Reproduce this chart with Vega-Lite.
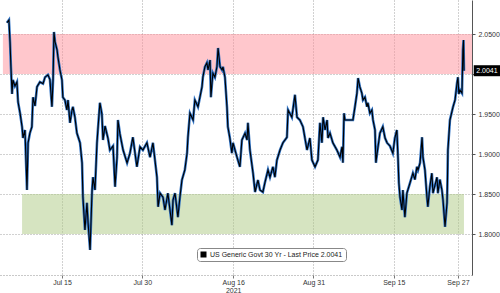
{
  "$schema": "https://vega.github.io/schema/vega-lite/v6.json",
  "width": 472,
  "height": 275,
  "autosize": "none",
  "padding": {"left": 0, "top": 0, "right": 28, "bottom": 18},
  "background": "white",
  "config": {
    "view": {"stroke": null},
    "font": "Liberation Sans",
    "axis": {"labelFont": "Liberation Sans", "labelFontSize": 7, "labelColor": "#333333", "title": null}
  },
  "datasets": {
    "bands": [
      {"zone": "resistance", "from": "2021-07-03T23:00", "to": "2021-09-29T15:00", "lo": 2.0, "hi": 2.05},
      {"zone": "support", "from": "2021-07-07T13:00", "to": "2021-09-28T03:00", "lo": 1.8, "hi": 1.85}
    ],
    "tag": [{"label": "2.0041", "price": 2.0041, "t": "2021-10-02T10:00"}],
    "price": [
      {"t": "2021-07-04T17:00", "v": 2.064}, {"t": "2021-07-05T02:00", "v": 2.0675}, {"t": "2021-07-05T07:00", "v": 2.04},
      {"t": "2021-07-05T11:00", "v": 2.009}, {"t": "2021-07-05T16:00", "v": 1.975}, {"t": "2021-07-05T20:00", "v": 1.9925},
      {"t": "2021-07-06T05:00", "v": 1.985}, {"t": "2021-07-06T14:00", "v": 1.99}, {"t": "2021-07-06T19:00", "v": 1.965},
      {"t": "2021-07-07T04:00", "v": 1.951}, {"t": "2021-07-07T13:00", "v": 1.934}, {"t": "2021-07-07T17:00", "v": 1.92},
      {"t": "2021-07-08T02:00", "v": 1.93}, {"t": "2021-07-08T11:00", "v": 1.855}, {"t": "2021-07-08T16:00", "v": 1.914},
      {"t": "2021-07-09T00:00", "v": 1.926}, {"t": "2021-07-09T09:00", "v": 1.934}, {"t": "2021-07-09T14:00", "v": 1.971},
      {"t": "2021-07-09T23:00", "v": 1.96}, {"t": "2021-07-10T08:00", "v": 1.984}, {"t": "2021-07-10T21:00", "v": 1.99},
      {"t": "2021-07-11T11:00", "v": 1.988}, {"t": "2021-07-11T20:00", "v": 1.996}, {"t": "2021-07-12T09:00", "v": 1.999},
      {"t": "2021-07-12T18:00", "v": 1.993}, {"t": "2021-07-13T03:00", "v": 1.959}, {"t": "2021-07-13T08:00", "v": 1.993},
      {"t": "2021-07-13T12:00", "v": 2.0525}, {"t": "2021-07-13T17:00", "v": 2.04}, {"t": "2021-07-14T02:00", "v": 2.03},
      {"t": "2021-07-14T06:00", "v": 2.021}, {"t": "2021-07-14T15:00", "v": 2.005}, {"t": "2021-07-15T00:00", "v": 1.9925},
      {"t": "2021-07-15T04:00", "v": 1.971}, {"t": "2021-07-15T13:00", "v": 1.9675}, {"t": "2021-07-15T22:00", "v": 1.955},
      {"t": "2021-07-16T03:00", "v": 1.9675}, {"t": "2021-07-16T12:00", "v": 1.939}, {"t": "2021-07-16T21:00", "v": 1.955},
      {"t": "2021-07-17T01:00", "v": 1.959}, {"t": "2021-07-17T10:00", "v": 1.946}, {"t": "2021-07-17T19:00", "v": 1.926},
      {"t": "2021-07-18T09:00", "v": 1.914}, {"t": "2021-07-18T18:00", "v": 1.889}, {"t": "2021-07-18T22:00", "v": 1.846},
      {"t": "2021-07-19T07:00", "v": 1.805}, {"t": "2021-07-19T16:00", "v": 1.839}, {"t": "2021-07-19T21:00", "v": 1.814},
      {"t": "2021-07-20T06:00", "v": 1.78}, {"t": "2021-07-20T15:00", "v": 1.855}, {"t": "2021-07-20T19:00", "v": 1.871},
      {"t": "2021-07-21T04:00", "v": 1.855}, {"t": "2021-07-21T13:00", "v": 1.914}, {"t": "2021-07-21T17:00", "v": 1.93},
      {"t": "2021-07-22T02:00", "v": 1.964}, {"t": "2021-07-22T11:00", "v": 1.95}, {"t": "2021-07-22T16:00", "v": 1.9175},
      {"t": "2021-07-23T01:00", "v": 1.935}, {"t": "2021-07-23T14:00", "v": 1.92}, {"t": "2021-07-23T23:00", "v": 1.905},
      {"t": "2021-07-24T13:00", "v": 1.91}, {"t": "2021-07-24T22:00", "v": 1.859}, {"t": "2021-07-25T07:00", "v": 1.896},
      {"t": "2021-07-25T11:00", "v": 1.9425}, {"t": "2021-07-25T20:00", "v": 1.925}, {"t": "2021-07-26T10:00", "v": 1.905},
      {"t": "2021-07-27T04:00", "v": 1.889}, {"t": "2021-07-27T17:00", "v": 1.901}, {"t": "2021-07-28T06:00", "v": 1.921},
      {"t": "2021-07-29T00:00", "v": 1.884}, {"t": "2021-07-29T14:00", "v": 1.909}, {"t": "2021-07-30T03:00", "v": 1.905},
      {"t": "2021-07-30T21:00", "v": 1.914}, {"t": "2021-07-31T11:00", "v": 1.896}, {"t": "2021-08-01T00:00", "v": 1.914},
      {"t": "2021-08-01T18:00", "v": 1.871}, {"t": "2021-08-01T23:00", "v": 1.834}, {"t": "2021-08-02T08:00", "v": 1.851},
      {"t": "2021-08-02T21:00", "v": 1.846}, {"t": "2021-08-03T06:00", "v": 1.83}, {"t": "2021-08-03T19:00", "v": 1.851},
      {"t": "2021-08-04T13:00", "v": 1.811}, {"t": "2021-08-04T18:00", "v": 1.8425}, {"t": "2021-08-05T03:00", "v": 1.851},
      {"t": "2021-08-05T16:00", "v": 1.821}, {"t": "2021-08-06T01:00", "v": 1.846}, {"t": "2021-08-06T10:00", "v": 1.8675},
      {"t": "2021-08-06T23:00", "v": 1.88}, {"t": "2021-08-07T09:00", "v": 1.901}, {"t": "2021-08-07T13:00", "v": 1.921},
      {"t": "2021-08-07T22:00", "v": 1.951}, {"t": "2021-08-08T12:00", "v": 1.9425}, {"t": "2021-08-08T20:00", "v": 1.9675},
      {"t": "2021-08-09T10:00", "v": 1.959}, {"t": "2021-08-10T04:00", "v": 1.984}, {"t": "2021-08-10T08:00", "v": 1.996},
      {"t": "2021-08-10T17:00", "v": 2.009}, {"t": "2021-08-11T02:00", "v": 2.014}, {"t": "2021-08-11T07:00", "v": 2.005},
      {"t": "2021-08-11T16:00", "v": 2.0175}, {"t": "2021-08-11T20:00", "v": 1.971}, {"t": "2021-08-12T01:00", "v": 1.989},
      {"t": "2021-08-12T05:00", "v": 2.001}, {"t": "2021-08-12T14:00", "v": 1.996}, {"t": "2021-08-12T23:00", "v": 2.009},
      {"t": "2021-08-13T04:00", "v": 2.0325}, {"t": "2021-08-13T13:00", "v": 2.009}, {"t": "2021-08-13T22:00", "v": 2.005},
      {"t": "2021-08-14T02:00", "v": 2.009}, {"t": "2021-08-14T11:00", "v": 1.996}, {"t": "2021-08-14T20:00", "v": 1.959},
      {"t": "2021-08-15T00:00", "v": 1.934}, {"t": "2021-08-15T09:00", "v": 1.92}, {"t": "2021-08-15T18:00", "v": 1.901},
      {"t": "2021-08-15T23:00", "v": 1.914}, {"t": "2021-08-16T17:00", "v": 1.896}, {"t": "2021-08-17T06:00", "v": 1.884},
      {"t": "2021-08-17T15:00", "v": 1.9175}, {"t": "2021-08-18T05:00", "v": 1.926}, {"t": "2021-08-18T14:00", "v": 1.9175},
      {"t": "2021-08-18T18:00", "v": 1.939}, {"t": "2021-08-19T03:00", "v": 1.905}, {"t": "2021-08-19T17:00", "v": 1.876},
      {"t": "2021-08-20T02:00", "v": 1.8525}, {"t": "2021-08-20T15:00", "v": 1.8675}, {"t": "2021-08-21T00:00", "v": 1.855},
      {"t": "2021-08-21T13:00", "v": 1.8525}, {"t": "2021-08-21T22:00", "v": 1.864}, {"t": "2021-08-22T12:00", "v": 1.88},
      {"t": "2021-08-22T21:00", "v": 1.871}, {"t": "2021-08-23T10:00", "v": 1.884}, {"t": "2021-08-23T19:00", "v": 1.871},
      {"t": "2021-08-24T04:00", "v": 1.8925}, {"t": "2021-08-24T18:00", "v": 1.905}, {"t": "2021-08-25T07:00", "v": 1.914},
      {"t": "2021-08-26T01:00", "v": 1.921}, {"t": "2021-08-26T06:00", "v": 1.955}, {"t": "2021-08-26T23:00", "v": 1.946},
      {"t": "2021-08-27T13:00", "v": 1.974}, {"t": "2021-08-27T22:00", "v": 1.946}, {"t": "2021-08-28T11:00", "v": 1.9425},
      {"t": "2021-08-29T01:00", "v": 1.934}, {"t": "2021-08-29T19:00", "v": 1.905}, {"t": "2021-08-30T08:00", "v": 1.92},
      {"t": "2021-08-30T17:00", "v": 1.8925}, {"t": "2021-08-31T07:00", "v": 1.884}, {"t": "2021-08-31T20:00", "v": 1.8925},
      {"t": "2021-09-01T05:00", "v": 1.939}, {"t": "2021-09-01T14:00", "v": 1.914}, {"t": "2021-09-01T19:00", "v": 1.946},
      {"t": "2021-09-02T04:00", "v": 1.93}, {"t": "2021-09-02T13:00", "v": 1.9425}, {"t": "2021-09-02T17:00", "v": 1.92},
      {"t": "2021-09-03T02:00", "v": 1.926}, {"t": "2021-09-03T15:00", "v": 1.914}, {"t": "2021-09-04T09:00", "v": 1.905},
      {"t": "2021-09-04T23:00", "v": 1.896}, {"t": "2021-09-05T08:00", "v": 1.909}, {"t": "2021-09-05T12:00", "v": 1.889},
      {"t": "2021-09-05T17:00", "v": 1.951}, {"t": "2021-09-05T21:00", "v": 1.9425}, {"t": "2021-09-07T09:00", "v": 1.9425},
      {"t": "2021-09-07T18:00", "v": 1.959}, {"t": "2021-09-08T03:00", "v": 1.976}, {"t": "2021-09-08T08:00", "v": 1.995},
      {"t": "2021-09-08T16:00", "v": 1.984}, {"t": "2021-09-09T01:00", "v": 1.976}, {"t": "2021-09-09T06:00", "v": 1.9675},
      {"t": "2021-09-09T15:00", "v": 1.971}, {"t": "2021-09-10T00:00", "v": 1.959}, {"t": "2021-09-10T04:00", "v": 1.964},
      {"t": "2021-09-10T13:00", "v": 1.951}, {"t": "2021-09-10T22:00", "v": 1.955}, {"t": "2021-09-11T03:00", "v": 1.9425},
      {"t": "2021-09-11T12:00", "v": 1.93}, {"t": "2021-09-11T16:00", "v": 1.889}, {"t": "2021-09-11T21:00", "v": 1.9},
      {"t": "2021-09-12T10:00", "v": 1.926}, {"t": "2021-09-12T23:00", "v": 1.934}, {"t": "2021-09-13T09:00", "v": 1.92},
      {"t": "2021-09-13T18:00", "v": 1.914}, {"t": "2021-09-14T07:00", "v": 1.91}, {"t": "2021-09-14T20:00", "v": 1.901},
      {"t": "2021-09-15T05:00", "v": 1.92}, {"t": "2021-09-15T14:00", "v": 1.93}, {"t": "2021-09-15T19:00", "v": 1.896},
      {"t": "2021-09-15T23:00", "v": 1.864}, {"t": "2021-09-16T04:00", "v": 1.846}, {"t": "2021-09-16T13:00", "v": 1.83},
      {"t": "2021-09-16T17:00", "v": 1.855}, {"t": "2021-09-17T02:00", "v": 1.821}, {"t": "2021-09-17T11:00", "v": 1.851},
      {"t": "2021-09-18T01:00", "v": 1.864}, {"t": "2021-09-18T14:00", "v": 1.876}, {"t": "2021-09-18T23:00", "v": 1.868},
      {"t": "2021-09-19T08:00", "v": 1.884}, {"t": "2021-09-19T13:00", "v": 1.88}, {"t": "2021-09-19T22:00", "v": 1.889},
      {"t": "2021-09-20T07:00", "v": 1.921}, {"t": "2021-09-20T11:00", "v": 1.896}, {"t": "2021-09-20T20:00", "v": 1.88},
      {"t": "2021-09-21T05:00", "v": 1.846}, {"t": "2021-09-21T09:00", "v": 1.834}, {"t": "2021-09-21T18:00", "v": 1.859},
      {"t": "2021-09-22T03:00", "v": 1.876}, {"t": "2021-09-22T08:00", "v": 1.851}, {"t": "2021-09-23T02:00", "v": 1.871},
      {"t": "2021-09-23T06:00", "v": 1.851}, {"t": "2021-09-23T15:00", "v": 1.868}, {"t": "2021-09-24T00:00", "v": 1.855},
      {"t": "2021-09-24T05:00", "v": 1.8425}, {"t": "2021-09-24T14:00", "v": 1.809}, {"t": "2021-09-24T23:00", "v": 1.839},
      {"t": "2021-09-25T01:00", "v": 1.868}, {"t": "2021-09-25T03:00", "v": 1.905}, {"t": "2021-09-25T12:00", "v": 1.9425},
      {"t": "2021-09-26T02:00", "v": 1.959}, {"t": "2021-09-26T11:00", "v": 1.9675}, {"t": "2021-09-26T20:00", "v": 1.989},
      {"t": "2021-09-27T00:00", "v": 1.996}, {"t": "2021-09-27T04:00", "v": 1.975}, {"t": "2021-09-27T09:00", "v": 1.98},
      {"t": "2021-09-27T18:00", "v": 1.976}, {"t": "2021-09-27T22:00", "v": 2.03}, {"t": "2021-09-28T01:00", "v": 2.0425},
      {"t": "2021-09-28T03:00", "v": 2.0041}
    ]
  },
  "layer": [
    {
      "data": {"name": "bands"},
      "mark": {"type": "rect", "opacity": 0.5},
      "encoding": {
        "x": {
          "field": "from", "type": "temporal",
          "scale": {"domain": [{"year": 2021, "month": 7, "date": 3, "hours": 10}, {"year": 2021, "month": 9, "date": 29, "hours": 15}]},
          "axis": {
            "orient": "bottom",
            "values": [
              {"year": 2021, "month": 7, "date": 15}, {"year": 2021, "month": 7, "date": 30},
              {"year": 2021, "month": 8, "date": 16}, {"year": 2021, "month": 8, "date": 31},
              {"year": 2021, "month": 9, "date": 15}, {"year": 2021, "month": 9, "date": 27}
            ],
            "format": "%b %d",
            "labelExpr": "datum.label == 'Aug 16' ? ['Aug 16', '2021'] : datum.label",
            "grid": true, "gridDash": [1, 2], "gridColor": "#8a8a8a", "gridWidth": 0.8,
            "domainDash": [1, 2], "domainColor": "#777777", "domainWidth": 0.8,
            "ticks": true, "tickSize": 3, "tickColor": "#777777",
            "labelPadding": 0, "labelFlush": false, "labelOverlap": false, "labelLineHeight": 8
          }
        },
        "x2": {"field": "to"},
        "y": {
          "field": "lo", "type": "quantitative",
          "scale": {"domain": [1.74875, 2.0925], "nice": false, "zero": false},
          "axis": {
            "orient": "right",
            "values": [1.8, 1.85, 1.9, 1.95, 2.0, 2.05],
            "format": ".4f",
            "labelExpr": "datum.value == 2 ? '' : datum.label",
            "grid": true, "gridDash": [1, 2], "gridColor": "#8a8a8a", "gridWidth": 0.8,
            "domainColor": "#555555", "domainWidth": 1,
            "tickSize": 3, "tickColor": "#555555", "labelPadding": 3
          }
        },
        "y2": {"field": "hi"},
        "color": {
          "field": "zone", "type": "nominal",
          "scale": {"domain": ["resistance", "support"], "range": ["#ff8f99", "#adc983"]},
          "legend": null
        }
      }
    },
    {
      "data": {"name": "price"},
      "mark": {"type": "line", "color": "#2f72c4", "strokeWidth": 2.6},
      "encoding": {
        "x": {"field": "t", "type": "temporal"},
        "y": {"field": "v", "type": "quantitative"}
      }
    },
    {
      "data": {"name": "price"},
      "mark": {"type": "line", "strokeWidth": 1.1},
      "encoding": {
        "x": {"field": "t", "type": "temporal"},
        "y": {"field": "v", "type": "quantitative"},
        "color": {
          "datum": "US Generic Govt 30 Yr - Last Price 2.0041",
          "type": "nominal",
          "scale": {"range": ["#000000"]},
          "legend": {
            "title": null, "orient": "none", "legendX": 197, "legendY": 248,
            "fillColor": "white", "strokeColor": "#888888", "cornerRadius": 3, "padding": 3,
            "symbolType": "square", "symbolSize": 36, "symbolFillColor": "#000000", "symbolStrokeColor": "#000000", "symbolStrokeWidth": 0,
            "labelFont": "Liberation Sans", "labelFontSize": 7, "labelColor": "#222222", "labelOffset": 3, "labelLimit": 300
          }
        }
      }
    },
    {
      "data": {"name": "tag"},
      "mark": {"type": "point", "shape": "M-1.2,-0.5H1.2V0.5H-1.2Z", "size": 484, "filled": true, "color": "#000000", "opacity": 1, "strokeWidth": 0, "clip": false},
      "encoding": {
        "x": {"field": "t", "type": "temporal"},
        "y": {"field": "price", "type": "quantitative"}
      }
    },
    {
      "data": {"name": "tag"},
      "mark": {"type": "text", "color": "white", "fontSize": 7, "font": "Liberation Sans", "align": "center", "baseline": "middle", "clip": false},
      "encoding": {
        "x": {"field": "t", "type": "temporal"},
        "y": {"field": "price", "type": "quantitative"},
        "text": {"field": "label"}
      }
    }
  ],
  "resolve": {"scale": {"color": "independent"}}
}
